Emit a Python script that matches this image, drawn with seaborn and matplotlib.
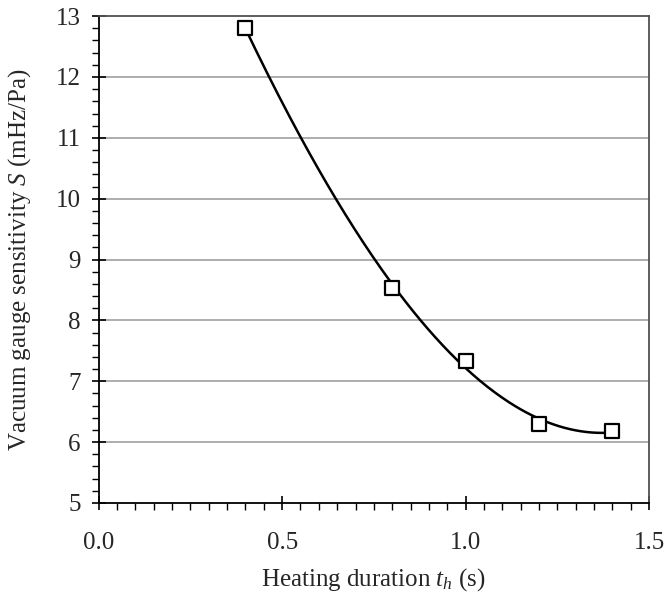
import numpy as np
import pandas as pd
import matplotlib
matplotlib.use("Agg")
import matplotlib.pyplot as plt
from matplotlib.ticker import MultipleLocator
import seaborn as sns

heating_duration = [0.4, 0.8, 1.0, 1.2, 1.4]
sensitivity = [12.80, 8.54, 7.33, 6.30, 6.18]

sns.set_style("white")
plt.rcParams['font.family'] = 'serif'
plt.rcParams['font.serif'] = ['Liberation Serif']
plt.rcParams['mathtext.fontset'] = 'custom'
plt.rcParams['mathtext.it'] = 'Liberation Serif:italic'
plt.rcParams['mathtext.rm'] = 'Liberation Serif'

df = pd.DataFrame({"t": heating_duration, "S": sensitivity})
coef = np.polyfit(df["t"], df["S"], 3)
tt = np.linspace(min(heating_duration), max(heating_duration), 200)
fit = pd.DataFrame({"t": tt, "S": np.polyval(coef, tt)})

fig = plt.figure(figsize=(6.67, 5.98), dpi=100)
ax = fig.add_axes([0.148, 0.159, 0.825, 0.814])

for y in range(6, 13):
    ax.axhline(y, color="#a0a0a0", lw=1.2, zorder=0)

sns.lineplot(data=fit, x="t", y="S", ax=ax, color="black", lw=1.8, zorder=2)
sns.scatterplot(data=df, x="t", y="S", ax=ax, marker="s", s=110,
                facecolor="white", edgecolor="black", linewidth=1.6, zorder=3)

ax.set_xlim(0, 1.5)
ax.set_ylim(5, 13)
ax.xaxis.set_major_locator(MultipleLocator(0.5))
ax.xaxis.set_minor_locator(MultipleLocator(0.05))
ax.yaxis.set_major_locator(MultipleLocator(1))
ax.yaxis.set_minor_locator(MultipleLocator(0.2))
ax.xaxis.set_major_formatter(matplotlib.ticker.FormatStrFormatter("%.1f"))

ax.tick_params(axis="both", which="major", direction="inout", length=10, width=1.2,
               labelsize=18, color="black", pad=8)
ax.tick_params(axis="both", which="minor", direction="out", length=5, width=1.0, color="black")
ax.tick_params(axis="x", which="major", pad=16)
ax.tick_params(bottom=True, left=True, which="both")

for s in ["left", "bottom"]:
    ax.spines[s].set_color("black")
    ax.spines[s].set_linewidth(1.3)
for s in ["top", "right"]:
    ax.spines[s].set_color("#505050")
    ax.spines[s].set_linewidth(1.3)

ax.set_xlabel(r"Heating duration $t_h$ (s)", fontsize=18, labelpad=9)
ax.set_ylabel(r"Vacuum gauge sensitivity $S$ (mHz/Pa)", fontsize=18, labelpad=16)

fig.savefig("out.png", dpi=100)
